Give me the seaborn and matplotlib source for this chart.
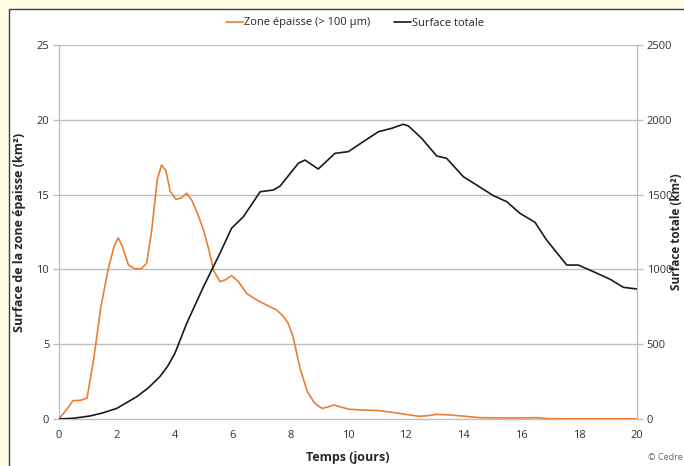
import matplotlib
matplotlib.use("Agg")
import matplotlib.pyplot as plt
from matplotlib.patches import Rectangle
import seaborn as sns
import pandas as pd

# Surface of the thick zone (> 100 µm), km²
jours_epaisse = [0.0, 0.25, 0.48, 0.75, 0.97, 1.2, 1.45, 1.7, 1.9, 2.05, 2.2, 2.4,
                 2.63, 2.85, 3.03, 3.2, 3.4, 3.55, 3.7, 3.85, 4.05, 4.25, 4.42,
                 4.6, 4.8, 5.0, 5.2, 5.34, 5.57, 5.75, 5.97, 6.2, 6.49, 6.8,
                 7.07, 7.3, 7.53, 7.75, 7.93, 8.1, 8.34, 8.6, 8.85, 9.1, 9.3,
                 9.51, 9.75, 10.04, 10.5, 11.09, 11.5, 12.0, 12.45, 12.75, 13.05,
                 13.5, 13.95, 14.55, 15.3, 16.06, 16.5, 16.96, 17.5, 18.5, 19.3, 20.0]
zone_epaisse = [0.0, 0.6, 1.22, 1.25, 1.4, 4.0, 7.5, 10.0, 11.5, 12.12, 11.5, 10.3,
                10.03, 10.05, 10.4, 12.5, 16.0, 16.98, 16.6, 15.2, 14.68, 14.8, 15.09,
                14.6, 13.7, 12.63, 11.2, 9.96, 9.18, 9.3, 9.58, 9.2, 8.4, 8.0,
                7.73, 7.5, 7.29, 6.9, 6.4, 5.5, 3.39, 1.8, 1.05, 0.71, 0.8,
                0.94, 0.8, 0.65, 0.6, 0.56, 0.45, 0.31, 0.18, 0.22, 0.31,
                0.27, 0.2, 0.09, 0.07, 0.07, 0.09, 0.02, 0.01, 0.01, 0.01, 0.01]

# Total oil slick surface, km²
jours_totale = [0.0, 0.5, 1.07, 1.5, 2.0, 2.69, 3.1, 3.49, 3.75, 4.01, 4.42, 5.0,
                5.57, 5.97, 6.38, 6.96, 7.42, 7.65, 8.28, 8.51, 8.97, 9.55, 10.01,
                10.53, 11.05, 11.51, 11.91, 12.09, 12.55, 13.07, 13.41, 13.99,
                14.45, 15.03, 15.49, 15.95, 16.47, 16.87, 17.57, 17.97, 18.49,
                19.07, 19.53, 20.0]
surface_totale = [0, 5, 20, 40, 71, 149, 210, 283, 350, 439, 640, 884,
                  1108, 1275, 1352, 1519, 1531, 1557, 1709, 1731, 1671, 1776, 1787,
                  1854, 1920, 1943, 1970, 1959, 1876, 1758, 1743, 1620,
                  1564, 1493, 1453, 1375, 1315, 1197, 1029, 1029, 985,
                  934, 880, 869]

x_ticks = [0, 2, 4, 6, 8, 10, 12, 14, 16, 18, 20]
y_ticks_gauche = [0, 5, 10, 15, 20, 25]
y_ticks_droite = [0, 500, 1000, 1500, 2000, 2500]

ORANGE = "#ED7D31"
NOIR = "#1a1a1a"
GRIS = "#bfbfbf"

df_ep = pd.DataFrame({"jours": jours_epaisse, "surface": zone_epaisse})
df_tot = pd.DataFrame({"jours": jours_totale, "surface": surface_totale})

sns.set_style("white")
plt.rcParams["font.family"] = ["Open Sans", "DejaVu Sans"]

W, H = 684, 466
fig = plt.figure(figsize=(W / 100, H / 100), dpi=100)
fig.patch.set_facecolor("#FFFBE6")

# white card with a dark frame, kept behind the axes
fig.patches.append(Rectangle((9 / W, -0.1), 1.2, 1 - 9 / H + 0.1,
                             transform=fig.transFigure, facecolor="white",
                             edgecolor="#404040", linewidth=1.0, zorder=-5))

ax = fig.add_axes([59 / W, 1 - 419 / H, (637 - 59) / W, (419 - 45) / H])
ax.set_facecolor("none")
ax2 = ax.twinx()
ax2.set_facecolor("none")

sns.lineplot(data=df_ep, x="jours", y="surface", ax=ax, color=ORANGE,
             linewidth=1.2, label="Zone épaisse (> 100 µm)", legend=False, zorder=3)
sns.lineplot(data=df_tot, x="jours", y="surface", ax=ax2, color=NOIR,
             linewidth=1.2, label="Surface totale", legend=False, zorder=3)

ax.set_xlim(0, 20)
ax.set_ylim(0, 25)
ax2.set_ylim(0, 2500)
ax.set_xticks(x_ticks)
ax.set_yticks(y_ticks_gauche)
ax2.set_yticks(y_ticks_droite)

for y in y_ticks_gauche[1:]:
    ax.axhline(y, color=GRIS, linewidth=1.0, zorder=1)

for a in (ax, ax2):
    for s in a.spines.values():
        s.set_visible(False)
ax.spines["left"].set_visible(True)
ax.spines["bottom"].set_visible(True)
ax2.spines["right"].set_visible(True)
for s in (ax.spines["left"], ax.spines["bottom"], ax2.spines["right"]):
    s.set_color(GRIS)
    s.set_linewidth(1.0)

ax.tick_params(axis="both", direction="out", length=4, width=1, color=GRIS,
               labelsize=8, labelcolor="#333333", pad=3)
ax2.tick_params(axis="y", direction="out", length=4, width=1, color=GRIS,
                labelsize=8, labelcolor="#333333", pad=3)
ax.tick_params(axis="x", pad=4)

ax.set_xlabel("")
ax.set_ylabel("")
ax2.set_ylabel("")

fig.text(20 / W, 1 - 232 / H, "Surface de la zone épaisse (km²)", rotation=90,
         ha="center", va="center", fontsize=9, fontweight="bold", color="#262626")
fig.text(348 / W, 1 - 458 / H, "Temps (jours)", ha="center", va="center",
         fontsize=9, fontweight="bold", color="#262626")
fig.text(677 / W, 1 - 232 / H, "Surface totale (km²)", rotation=90,
         ha="center", va="center", fontsize=8.5, fontweight="bold", color="#262626")
fig.text(665 / W, 1 - 458 / H, "© Cedre", ha="center", va="center",
         fontsize=6.5, color="#666666")

h1, l1 = ax.get_legend_handles_labels()
h2, l2 = ax2.get_legend_handles_labels()
fig.legend(h1 + h2, l1 + l2, loc="center", bbox_to_anchor=(355 / W, 1 - 23 / H),
           ncol=2, frameon=False, fontsize=8, handlelength=1.5, handletextpad=0.1,
           columnspacing=2.2, labelcolor="#262626")

fig.savefig("out.png", dpi=100, facecolor=fig.get_facecolor())
